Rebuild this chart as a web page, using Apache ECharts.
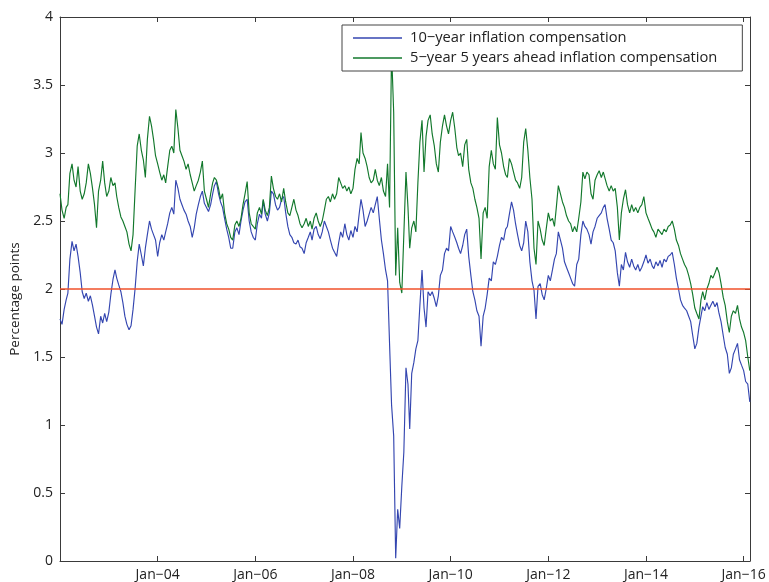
<!DOCTYPE html>
<html>
<head>
<meta charset="utf-8">
<script src="https://cdn.jsdelivr.net/npm/echarts@6/dist/echarts.min.js"></script>
<style>
  html, body { margin: 0; padding: 0; background: #ffffff; }
  #chart { width: 769px; height: 582px; }
</style>
</head>
<body>
<div id="chart"></div>
<script>
// Observation dates: the 1st and 16th of every month, Jan 2002 to Feb 2016
const firstYear = 2002, lastYear = 2016, lastMonth = 2;
const dates = [];
for (let y = firstYear; y <= lastYear; y++) {
  for (let m = 1; m <= 12; m++) {
    if (y === lastYear && m > lastMonth) break;
    const mm = String(m).padStart(2, '0');
    dates.push(`${y}-${mm}-01`, `${y}-${mm}-16`);
  }
}

// 10-year inflation compensation (percentage points)
const tenYear = [
  1.78, 1.74, 1.85, 1.92, 1.97, 2.22, 2.35, 2.28, 2.33, 2.24,
  2.12, 1.98, 1.93, 1.97, 1.91, 1.95, 1.88, 1.80, 1.72, 1.67,
  1.80, 1.75, 1.82, 1.76, 1.83, 1.96, 2.07, 2.14, 2.08, 2.03,
  1.98, 1.90, 1.80, 1.74, 1.70, 1.73, 1.85, 2.00, 2.20, 2.33,
  2.25, 2.17, 2.30, 2.40, 2.50, 2.44, 2.40, 2.36, 2.24, 2.34,
  2.40, 2.36, 2.42, 2.48, 2.56, 2.60, 2.55, 2.80, 2.74, 2.66,
  2.62, 2.58, 2.55, 2.50, 2.46, 2.38, 2.45, 2.55, 2.62, 2.68,
  2.72, 2.63, 2.60, 2.57, 2.62, 2.70, 2.76, 2.79, 2.70, 2.64,
  2.60, 2.52, 2.44, 2.38, 2.30, 2.30, 2.42, 2.45, 2.40, 2.50,
  2.58, 2.64, 2.66, 2.50, 2.42, 2.38, 2.36, 2.48, 2.55, 2.52,
  2.65, 2.55, 2.50, 2.56, 2.72, 2.70, 2.62, 2.58, 2.60, 2.66,
  2.68, 2.56, 2.46, 2.40, 2.38, 2.34, 2.33, 2.36, 2.31, 2.30,
  2.26, 2.34, 2.38, 2.42, 2.36, 2.44, 2.46, 2.40, 2.37, 2.42,
  2.50, 2.46, 2.42, 2.36, 2.30, 2.27, 2.24, 2.34, 2.42, 2.38,
  2.48, 2.40, 2.36, 2.43, 2.38, 2.46, 2.42, 2.55, 2.66, 2.58,
  2.46, 2.50, 2.55, 2.60, 2.56, 2.62, 2.68, 2.52, 2.36, 2.26,
  2.14, 2.06, 1.60, 1.15, 0.92, 0.02, 0.38, 0.24, 0.55, 0.80,
  1.42, 1.30, 0.97, 1.38, 1.46, 1.56, 1.62, 1.88, 2.14, 1.86,
  1.72, 1.98, 1.95, 1.98, 1.93, 1.87, 1.95, 2.10, 2.14, 2.26,
  2.30, 2.28, 2.46, 2.42, 2.38, 2.34, 2.30, 2.26, 2.32, 2.40,
  2.44, 2.24, 2.10, 1.98, 1.92, 1.84, 1.80, 1.58, 1.80, 1.86,
  1.96, 2.08, 2.06, 2.20, 2.18, 2.24, 2.32, 2.38, 2.36, 2.44,
  2.46, 2.55, 2.64, 2.58, 2.48, 2.40, 2.32, 2.28, 2.34, 2.50,
  2.42, 2.20, 2.06, 1.99, 1.78, 2.02, 2.04, 1.96, 1.92, 2.00,
  2.10, 2.06, 2.14, 2.22, 2.26, 2.42, 2.36, 2.30, 2.20, 2.16,
  2.12, 2.08, 2.04, 2.02, 2.18, 2.22, 2.40, 2.50, 2.46, 2.44,
  2.40, 2.33, 2.42, 2.46, 2.52, 2.54, 2.56, 2.60, 2.62, 2.52,
  2.44, 2.36, 2.34, 2.28, 2.12, 2.02, 2.18, 2.14, 2.27, 2.20,
  2.16, 2.22, 2.17, 2.14, 2.18, 2.13, 2.16, 2.20, 2.25, 2.19,
  2.22, 2.17, 2.15, 2.20, 2.17, 2.21, 2.16, 2.22, 2.20, 2.24,
  2.25, 2.27, 2.18, 2.08, 2.00, 1.92, 1.88, 1.86, 1.84, 1.80,
  1.76, 1.66, 1.56, 1.60, 1.72, 1.80, 1.87, 1.84, 1.90, 1.85,
  1.88, 1.91, 1.87, 1.90, 1.82, 1.76, 1.66, 1.57, 1.52, 1.38,
  1.42, 1.52, 1.56, 1.60, 1.48, 1.44, 1.40, 1.32, 1.30, 1.17
];

// 5-year 5 years ahead inflation compensation (percentage points)
const fiveYearFiveAhead = [
  2.70, 2.58, 2.52, 2.60, 2.62, 2.85, 2.92, 2.80, 2.75, 2.90,
  2.72, 2.66, 2.70, 2.78, 2.92, 2.85, 2.74, 2.62, 2.45, 2.72,
  2.80, 2.94, 2.78, 2.68, 2.72, 2.82, 2.76, 2.78, 2.68, 2.60,
  2.53, 2.50, 2.46, 2.42, 2.33, 2.28, 2.40, 2.72, 3.05, 3.14,
  3.02, 2.95, 2.82, 3.10, 3.27, 3.20, 3.10, 2.98, 2.92, 2.86,
  2.80, 2.84, 2.78, 2.90, 3.02, 3.05, 3.00, 3.32, 3.18, 3.02,
  2.98, 2.94, 2.88, 2.92, 2.84, 2.78, 2.72, 2.76, 2.80, 2.86,
  2.94, 2.72, 2.66, 2.60, 2.70, 2.78, 2.82, 2.80, 2.74, 2.66,
  2.70, 2.56, 2.48, 2.44, 2.38, 2.36, 2.47, 2.50, 2.46, 2.52,
  2.62, 2.70, 2.79, 2.56, 2.48, 2.46, 2.44, 2.56, 2.60, 2.55,
  2.66, 2.58, 2.54, 2.60, 2.83, 2.74, 2.68, 2.66, 2.70, 2.64,
  2.74, 2.64, 2.56, 2.54, 2.60, 2.66, 2.58, 2.54, 2.48, 2.45,
  2.48, 2.52, 2.46, 2.50, 2.44, 2.52, 2.56, 2.50, 2.46, 2.50,
  2.58, 2.66, 2.68, 2.64, 2.70, 2.66, 2.70, 2.82, 2.78, 2.74,
  2.76, 2.72, 2.75, 2.70, 2.74, 2.88, 2.96, 2.92, 3.15, 3.00,
  2.96, 2.90, 2.82, 2.78, 2.80, 2.88, 2.80, 2.76, 2.82, 2.72,
  2.68, 2.92, 2.60, 3.75, 3.30, 2.10, 2.45, 2.05, 1.97, 2.40,
  2.86, 2.60, 2.30, 2.45, 2.50, 2.42, 2.78, 3.08, 3.24, 2.86,
  3.12, 3.24, 3.28, 3.14, 3.05, 2.92, 2.86, 3.08, 3.20, 3.28,
  3.20, 3.14, 3.24, 3.30, 3.18, 3.04, 2.98, 3.00, 2.90, 3.06,
  3.10, 2.88, 2.78, 2.74, 2.66, 2.60, 2.52, 2.22, 2.56, 2.60,
  2.52, 2.90, 3.02, 2.92, 2.88, 3.26, 3.06, 3.00, 2.90, 2.84,
  2.82, 2.96, 2.92, 2.86, 2.80, 2.78, 2.74, 2.82, 3.08, 3.18,
  3.02, 2.82, 2.66, 2.30, 2.18, 2.50, 2.44, 2.36, 2.32, 2.44,
  2.56, 2.50, 2.52, 2.46, 2.60, 2.76, 2.70, 2.64, 2.60, 2.54,
  2.50, 2.48, 2.42, 2.46, 2.42, 2.52, 2.64, 2.86, 2.81, 2.86,
  2.84, 2.70, 2.66, 2.80, 2.84, 2.87, 2.82, 2.86, 2.86, 2.76,
  2.72, 2.76, 2.72, 2.74, 2.60, 2.36, 2.56, 2.66, 2.73, 2.62,
  2.56, 2.62, 2.57, 2.60, 2.56, 2.60, 2.62, 2.68, 2.56, 2.52,
  2.48, 2.44, 2.42, 2.38, 2.44, 2.42, 2.40, 2.44, 2.42, 2.46,
  2.47, 2.50, 2.44, 2.36, 2.32, 2.26, 2.22, 2.18, 2.15, 2.10,
  2.04, 1.96, 1.86, 1.82, 1.78, 1.92, 1.98, 1.92, 2.00, 2.04,
  2.10, 2.08, 2.12, 2.16, 2.12, 2.04, 1.94, 1.88, 1.76, 1.68,
  1.80, 1.84, 1.82, 1.88, 1.78, 1.72, 1.68, 1.62, 1.50, 1.40
];

const seriesNames = [
  '10\u2212year inflation compensation',
  '5\u2212year 5 years ahead inflation compensation'
];
const referenceLevel = 2;          // horizontal line at 2 percent
const axisStartYear = 2002;
const axisEndYear = 2016.13;       // axis ends late February 2016
const yTicks = { min: 0, max: 4, step: 0.5 };

// date string -> fractional year, so the axis can be laid out in years
function yearFraction(s) {
  const [y, m, d] = s.split('-').map(Number);
  const t = Date.UTC(y, m - 1, d);
  const a = Date.UTC(y, 0, 1), b = Date.UTC(y + 1, 0, 1);
  return y + (t - a) / (b - a);
}
const xs = dates.map(yearFraction);
const pairs = vals => vals.map((v, i) => [xs[i], v]);

const FONT = '"Open Sans", "Noto Sans", sans-serif';
const TEXT = '#222222';
const AXIS = '#3a3a3a';
const BLUE = '#3446b0';
const GREEN = '#12782c';
const RED = '#f0502a';

const tickLabel = v => {
  const r = Math.round(v);
  if (Math.abs(v - r) > 1e-6 || r <= axisStartYear || r % 2 !== 0) return '';
  return 'Jan\u2212' + String(r).slice(2);
};

const chart = echarts.init(document.getElementById('chart'), null, { renderer: 'canvas' });

const baseX = {
  type: 'value', min: axisStartYear, max: axisEndYear, interval: 2,
  splitLine: { show: false },
  axisLine: { show: true, onZero: false, lineStyle: { color: AXIS, width: 1 } },
  axisTick: { show: true, inside: true, length: 5, lineStyle: { color: AXIS } }
};
const baseY = {
  type: 'value', min: yTicks.min, max: yTicks.max, interval: yTicks.step,
  splitLine: { show: false },
  axisLine: { show: true, onZero: false, lineStyle: { color: AXIS, width: 1 } },
  axisTick: { show: true, inside: true, length: 5, lineStyle: { color: AXIS } }
};

chart.setOption({
  animation: false,
  backgroundColor: '#ffffff',
  textStyle: { fontFamily: FONT },
  grid: { left: 60, right: 19, top: 17, bottom: 21, containLabel: false },
  legend: {
    data: [
      { name: seriesNames[0], icon: 'rect', itemStyle: { color: BLUE } },
      { name: seriesNames[1], icon: 'rect', itemStyle: { color: GREEN } }
    ],
    orient: 'vertical',
    left: 342, top: 25,
    padding: [5, 25, 5, 11],
    itemGap: 4,
    itemWidth: 49, itemHeight: 1.5,
    backgroundColor: '#ffffff',
    borderColor: '#444444', borderWidth: 1, borderRadius: 0,
    textStyle: { fontFamily: FONT, fontSize: 14.7, lineHeight: 16, color: TEXT, padding: [0, 0, 0, 3] }
  },
  xAxis: [
    Object.assign({}, baseX, {
      position: 'bottom',
      axisLabel: { show: true, formatter: tickLabel, fontFamily: FONT, fontSize: 14, color: TEXT, margin: 7,
                   showMinLabel: false, showMaxLabel: false }
    }),
    Object.assign({}, baseX, { position: 'top', axisLabel: { show: false } })
  ],
  yAxis: [
    Object.assign({}, baseY, {
      position: 'left',
      name: 'Percentage points',
      nameLocation: 'middle', nameGap: 36,
      nameTextStyle: { fontFamily: FONT, fontSize: 13.5, color: TEXT, padding: [0, 20, 0, 0] },
      axisLabel: { show: true, fontFamily: FONT, fontSize: 14, color: TEXT, margin: 7 }
    }),
    Object.assign({}, baseY, { position: 'right', axisLabel: { show: false } })
  ],
  series: [
    {
      name: seriesNames[0], type: 'line', data: pairs(tenYear),
      symbol: 'none', showSymbol: false,
      lineStyle: { color: BLUE, width: 1.15 }, itemStyle: { color: BLUE }, z: 2
    },
    {
      name: seriesNames[1], type: 'line', data: pairs(fiveYearFiveAhead),
      symbol: 'none', showSymbol: false,
      lineStyle: { color: GREEN, width: 1.15 }, itemStyle: { color: GREEN }, z: 3
    },
    {
      name: 'reference', type: 'line', data: [], z: 4,
      markLine: {
        silent: true, symbol: ['none', 'none'], label: { show: false },
        lineStyle: { color: RED, width: 1.5, type: 'solid' },
        data: [{ yAxis: referenceLevel }]
      }
    }
  ]
});
</script>
</body>
</html>
